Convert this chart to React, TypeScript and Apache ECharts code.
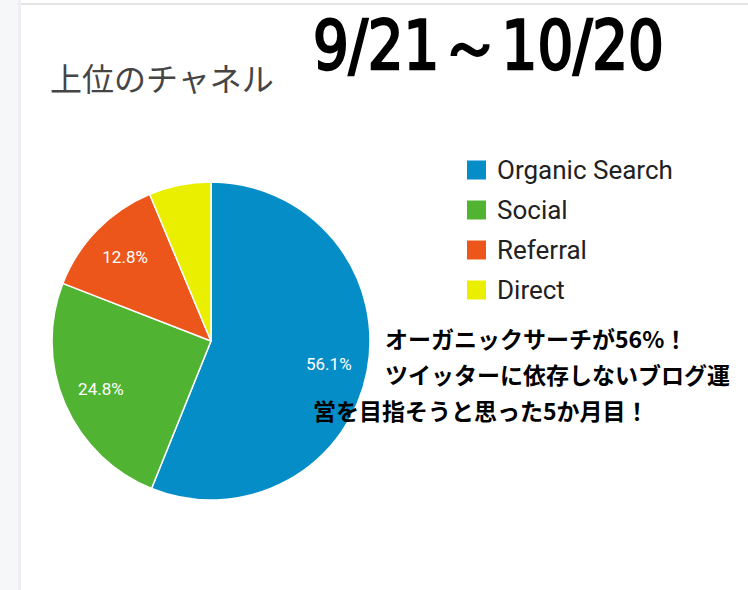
import { useEffect, useRef } from "react";
import * as echarts from "echarts";

// channel shares (%)
const channels = ["Organic Search", "Social", "Referral", "Direct"];
const shares = [56.1, 24.8, 12.8, 6.3];
const colors = ["#058dc7", "#50b432", "#ed561b", "#eaef00"];

const title = "上位のチャネル";
const period = "9/21～10/20";
const notes = [
  "オーガニックサーチが56%！",
  "ツイッターに依存しないブログ運",
  "営を目指そうと思った5か月目！",
];

export default function App() {
  const chartRef = useRef<HTMLDivElement>(null);

  useEffect(() => {
    document.body.style.margin = "0";
    if (!chartRef.current) return;
    const chart = echarts.init(chartRef.current, undefined, { renderer: "svg" });

    const option: echarts.EChartsOption = {
      animation: false,
      backgroundColor: "#ffffff",
      legend: {
        orient: "vertical",
        left: 460,
        top: 152,
        itemWidth: 21,
        itemHeight: 21,
        itemGap: 14,
        icon: "rect",
        data: channels.map((name, i) => ({ name, itemStyle: { color: colors[i] } })),
        textStyle: {
          fontSize: 26,
          lineHeight: 26,
          color: "#212121",
          fontFamily: "Roboto",
          padding: [0, 0, 0, 5],
        },
      },
      graphic: [
        // left sidebar and top rule
        { type: "rect", left: 0, top: 0, shape: { width: 18, height: 590 }, style: { fill: "#f6f7f9" }, silent: true },
        { type: "rect", left: 18, top: 0, shape: { width: 3, height: 590 }, style: { fill: "#eceef1" }, silent: true },
        { type: "rect", left: 21, top: 3, shape: { width: 727, height: 2 }, style: { fill: "#e3e3e3" }, silent: true },
        {
          type: "text",
          left: 50,
          top: 61,
          style: {
            text: title,
            fontSize: 32,
            fill: "#454545",
            fontFamily: "Noto Sans CJK JP",
          },
        },
        {
          type: "text",
          x: 313,
          y: 11,
          scaleX: 0.92,
          style: {
            text: period,
            fontSize: 68,
            fontWeight: "normal",
            fill: "#000000",
            stroke: "#000000",
            lineWidth: 2.5,
            fontFamily: "DejaVu Sans Condensed",
          },
        },
        ...notes.map((t, i) => ({
          type: "text" as const,
          x: i === 2 ? 313 : 385,
          y: 338 + i * 36,
          style: {
            text: t,
            fontSize: 23,
            fontWeight: "bold" as const,
            fill: "#000000",
            fontFamily: "Noto Sans CJK JP",
            verticalAlign: "middle" as const,
          },
          z: 10,
        })),
      ],
      series: [
        {
          type: "pie",
          center: [211, 341],
          radius: [0, 159],
          startAngle: 90,
          clockwise: true,
          silent: true,
          label: { show: false },
          labelLine: { show: false },
          itemStyle: { borderColor: "#ffffff", borderWidth: 1.5 },
          data: channels.map((name, i) => ({
            name,
            value: shares[i],
            itemStyle: { color: colors[i] },
          })),
        },
        {
          // transparent twin, only used to place the percentage labels further out
          type: "pie",
          center: [211, 341],
          radius: [0, 234],
          startAngle: 90,
          clockwise: true,
          silent: true,
          z: 3,
          itemStyle: { color: "rgba(0,0,0,0)" },
          label: {
            show: true,
            position: "inside",
            color: "#ffffff",
            fontSize: 17,
            fontFamily: "Roboto",
            formatter: (p: any) => `${p.value.toFixed(1)}%`,
          },
          labelLine: { show: false },
          data: channels.map((name, i) => ({
            name,
            value: shares[i],
            label: { show: shares[i] >= 10 },
          })),
        },
      ],
    };

    chart.setOption(option);
    return () => chart.dispose();
  }, []);

  return <div ref={chartRef} style={{ width: 748, height: 590 }} />;
}
